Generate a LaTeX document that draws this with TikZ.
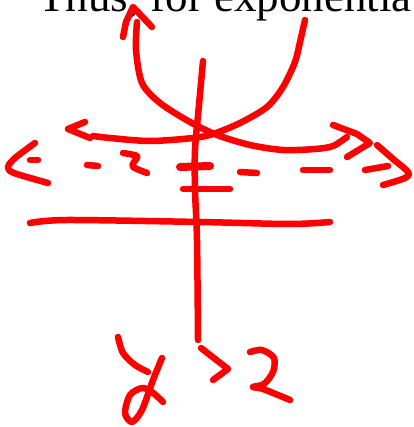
\documentclass[tikz,border=0pt]{standalone}
\usepackage{fontspec}
\setmainfont{Liberation Serif}
\begin{document}
\begin{tikzpicture}[x=1pt,y=-1pt,
  ink/.style={draw=red, line width=6.5pt, line cap=round, line join=round},
  thickink/.style={ink, line width=8pt}]
\useasboundingbox (0,0) rectangle (413,427);
\node[anchor=base west, inner sep=0pt, font=\fontsize{45}{50}\selectfont] (title) at (38,12) {Thus, for exponentia};
% left rising curve with arrow
\draw[ink] plot[smooth] coordinates {(137,22) (136,50) (142,83) (160,103) (190,122) (217,135) (250,145) (283,150) (315,149) (333,146) (347,137)};
\draw[ink] (123,37) -- (126,22) -- (133,7) -- (152,27);
% right curve into horizontal line
\draw[ink] plot[smooth] coordinates {(305,20) (300,42) (295,62) (283,87) (267,107) (240,123) (213,134) (193,138) (150,141) (110,138) (93,136)};
\draw[ink] (85,122) -- (68,129) -- (90,138);
\draw[ink] (333,125) -- (357,134) -- (370,143) -- (347,157);
% vertical axis
\draw[ink] plot[smooth] coordinates {(203,61) (199,105) (195,150) (195,190) (197,240) (198,340)};
% dashed line
\draw[ink] plot[smooth] coordinates {(35,143) (15,158) (8,167) (14,173) (48,183)};
\draw[ink] (30,160) -- (38,160);
\draw[ink] (87,165) -- (98,166);
\draw[ink] plot[smooth] coordinates {(123,153) (137,156) (134,162) (133,167) (147,173)};
\draw[thickink] (180,167) -- (210,166);
\draw[ink] (240,172) -- (257,173);
\draw[ink] (303,170) -- (330,170);
\draw[ink] (365,170) -- (388,166);
\draw[ink] plot[smooth] coordinates {(377,145) (393,159) (408,172) (405,178) (383,185)};
% lines below
\draw[ink] (183,189) -- (230,189);
\draw[ink] plot[smooth] coordinates {(30,223) (67,220) (200,222) (290,224) (330,222)};
% x > 2
\draw[ink] plot[smooth] coordinates {(118,337) (123,353) (135,365) (148,372)};
\draw[ink] plot[smooth] coordinates {(162,358) (153,380) (142,410) (132,422) (125,413) (130,395) (142,388) (152,392) (163,402)};
\draw[ink] (201,348) -- (228,369) -- (213,380);
\draw[ink] plot[smooth] coordinates {(250,352) (262,350) (274,358) (273,372) (264,384) (253,387) (263,389) (290,400)};
\end{tikzpicture}
\end{document}
